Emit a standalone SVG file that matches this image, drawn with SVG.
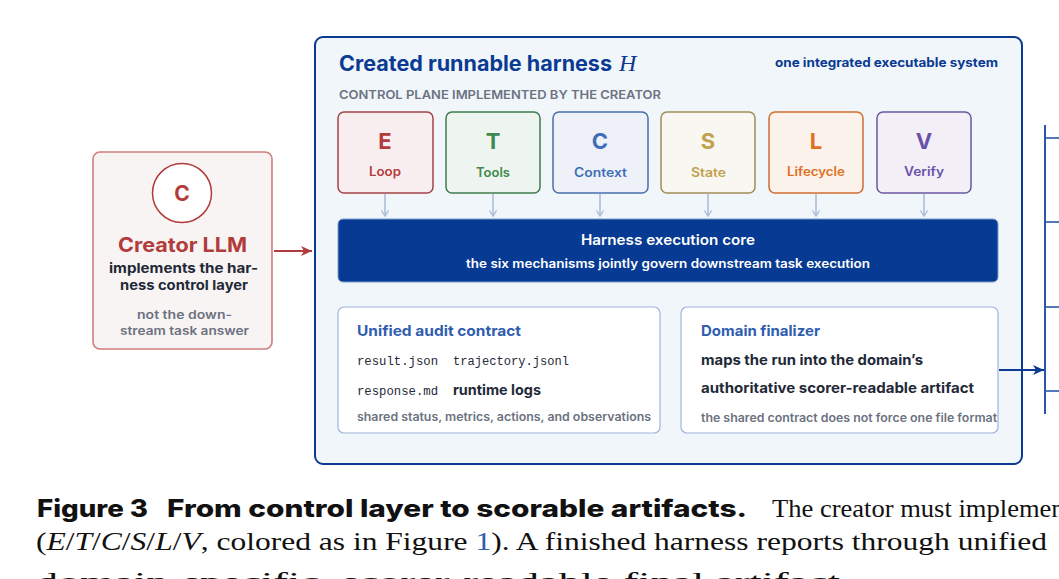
<svg xmlns="http://www.w3.org/2000/svg" width="1059" height="579" viewBox="0 0 1059 579">
<defs>
<style>
.sans{font-family:Inter,"Noto Sans","Liberation Sans",sans-serif}
.mono{font-family:"Liberation Mono","DejaVu Sans Mono",monospace;font-size:12px;fill:#1f2937}
.letter{font-family:Inter,"Liberation Sans",sans-serif;font-size:22px;font-weight:700;text-anchor:middle}
.lab{font-family:Inter,"Liberation Sans",sans-serif;font-size:12.5px;font-weight:600}
.mech{stroke-width:1.5}
.down{stroke:#a9bad6;stroke-width:1.5;fill:none}
.card{fill:#ffffff;stroke:#9fb4dc;stroke-width:1.2}
.ctitle{font-family:Inter,"Liberation Sans",sans-serif;font-size:14.5px;font-weight:700;fill:#2f5db0}
.dark{font-family:Inter,"Liberation Sans",sans-serif;font-weight:700;fill:#1f2937}
.gray{font-family:Inter,"Liberation Sans",sans-serif;font-weight:600;fill:#6b7280}
.serif{font-family:"Liberation Serif","DejaVu Serif",serif;font-size:26px;fill:#111}
</style>
<marker id="ahDown" markerWidth="8" markerHeight="8" refX="6" refY="4" orient="auto" markerUnits="userSpaceOnUse" viewBox="0 0 8 8">
<path d="M0.5,0.5 L6,4 L0.5,7.5" fill="none" stroke="#a9bad6" stroke-width="1.3"/>
</marker>
<marker id="ahRed" markerWidth="12" markerHeight="12" refX="11" refY="6" orient="auto" markerUnits="userSpaceOnUse" viewBox="0 0 12 12">
<path d="M0,1 L11,6 L0,11 L3,6 Z" fill="#b23b3b"/>
</marker>
<marker id="ahBlue" markerWidth="12" markerHeight="12" refX="11" refY="6" orient="auto" markerUnits="userSpaceOnUse" viewBox="0 0 12 12">
<path d="M0,1 L11,6 L0,11 L3,6 Z" fill="#0a3a92"/>
</marker>
</defs>

<rect width="1059" height="579" fill="#ffffff"/>

<!-- Creator LLM -->
<g id="creator">
<rect x="93" y="152" width="179" height="197" rx="7" fill="#f9f4f4" stroke="#cf7c7c" stroke-width="1.6"/>
<circle cx="182" cy="193" r="29.5" fill="#ffffff" stroke="#b23b3b" stroke-width="1.5"/>
<text x="182" y="201" class="sans" font-size="21" font-weight="700" fill="#b23b3b" text-anchor="middle">C</text>
<text x="118" y="252" class="sans" font-size="20" font-weight="700" fill="#b23b3b" textLength="129" lengthAdjust="spacingAndGlyphs">Creator LLM</text>
<text x="109" y="273" class="dark" font-size="13.5" textLength="149" lengthAdjust="spacingAndGlyphs">implements the har-</text>
<text x="120" y="290" class="dark" font-size="13.5" textLength="128" lengthAdjust="spacingAndGlyphs">ness control layer</text>
<text x="137" y="319" class="gray" font-size="12" textLength="95" lengthAdjust="spacingAndGlyphs">not the down-</text>
<text x="120" y="335" class="gray" font-size="12" textLength="129" lengthAdjust="spacingAndGlyphs">stream task answer</text>
</g>

<!-- Harness container -->
<g id="harness">
<rect x="315" y="37" width="707" height="427" rx="8" fill="#f1f6fb" stroke="#0a3a92" stroke-width="2"/>
<text x="339" y="71" class="sans" font-size="21" font-weight="700" fill="#0a3a92" textLength="273" lengthAdjust="spacingAndGlyphs">Created runnable harness</text>
<text x="619" y="71" font-family="'Liberation Serif',serif" font-style="italic" font-size="24" fill="#0a3a92">H</text>
<text x="775" y="67" class="sans" font-size="12.5" font-weight="700" fill="#0a3a92" textLength="223" lengthAdjust="spacingAndGlyphs">one integrated executable system</text>
<text x="339" y="99" class="gray" font-size="12" font-weight="700" textLength="322" lengthAdjust="spacingAndGlyphs">CONTROL PLANE IMPLEMENTED BY THE CREATOR</text>
</g>

<g id="mech-E">
<rect x="338" y="112" width="95" height="81" rx="6" fill="#f8eeef" stroke="#a54448" class="mech"/>
<text x="385" y="149" class="letter" fill="#b23b3b">E</text>
<text x="369" y="176" class="lab" fill="#b23b3b" textLength="32" lengthAdjust="spacingAndGlyphs">Loop</text>
</g>
<g id="mech-T">
<rect x="446" y="112" width="94" height="81" rx="6" fill="#eef4f0" stroke="#3f7c4c" class="mech"/>
<text x="493" y="149" class="letter" fill="#3c8a4c">T</text>
<text x="476" y="177" class="lab" fill="#3c8a4c" textLength="34" lengthAdjust="spacingAndGlyphs">Tools</text>
</g>
<g id="mech-C">
<rect x="553" y="112" width="95" height="81" rx="6" fill="#eef2f8" stroke="#4a6ea8" class="mech"/>
<text x="600" y="149" class="letter" fill="#3f6db8">C</text>
<text x="574" y="177" class="lab" fill="#3f6db8" textLength="53" lengthAdjust="spacingAndGlyphs">Context</text>
</g>
<g id="mech-S">
<rect x="661" y="112" width="94" height="81" rx="6" fill="#f8f7f1" stroke="#a08f56" class="mech"/>
<text x="708" y="149" class="letter" fill="#c1a24e">S</text>
<text x="691" y="177" class="lab" fill="#c1a24e" textLength="35" lengthAdjust="spacingAndGlyphs">State</text>
</g>
<g id="mech-L">
<rect x="769" y="112" width="94" height="81" rx="6" fill="#fbf2ec" stroke="#cf6f2e" class="mech"/>
<text x="816" y="149" class="letter" fill="#e0701e">L</text>
<text x="787" y="176" class="lab" fill="#e0701e" textLength="58" lengthAdjust="spacingAndGlyphs">Lifecycle</text>
</g>
<g id="mech-V">
<rect x="877" y="112" width="94" height="81" rx="6" fill="#f2f0f6" stroke="#6a58a2" class="mech"/>
<text x="924" y="149" class="letter" fill="#6a52ac">V</text>
<text x="904" y="176" class="lab" fill="#6a52ac" textLength="40" lengthAdjust="spacingAndGlyphs">Verify</text>
</g>

<g id="core">
<rect x="338" y="219" width="660" height="63" rx="5" fill="#073a92" stroke="#7f9ccc" stroke-width="1"/>
<text x="581" y="245" class="sans" font-size="14.5" font-weight="600" fill="#ffffff" textLength="174" lengthAdjust="spacingAndGlyphs">Harness execution core</text>
<text x="466" y="268" class="sans" font-size="12.5" font-weight="600" fill="#ffffff" textLength="404" lengthAdjust="spacingAndGlyphs">the six mechanisms jointly govern downstream task execution</text>
</g>

<g id="audit">
<rect x="338" y="307" width="322" height="126" rx="6" class="card"/>
<text x="357" y="336" class="ctitle" textLength="164" lengthAdjust="spacingAndGlyphs">Unified audit contract</text>
<text x="357" y="365" class="mono" textLength="81" lengthAdjust="spacingAndGlyphs">result.json</text>
<text x="453" y="365" class="mono" textLength="116" lengthAdjust="spacingAndGlyphs">trajectory.jsonl</text>
<text x="357" y="395" class="mono" textLength="81" lengthAdjust="spacingAndGlyphs">response.md</text>
<text x="453" y="395" class="dark" font-size="14.5" textLength="88" lengthAdjust="spacingAndGlyphs">runtime logs</text>
<text x="357" y="421" class="gray" font-size="11.5" textLength="294" lengthAdjust="spacingAndGlyphs">shared status, metrics, actions, and observations</text>
</g>

<g id="finalizer">
<rect x="681" y="307" width="317" height="126" rx="6" class="card"/>
<text x="701" y="336" class="ctitle" textLength="119" lengthAdjust="spacingAndGlyphs">Domain finalizer</text>
<text x="701" y="365" class="dark" font-size="14" textLength="222" lengthAdjust="spacingAndGlyphs">maps the run into the domain’s</text>
<text x="701" y="393" class="dark" font-size="14" textLength="273" lengthAdjust="spacingAndGlyphs">authoritative scorer-readable artifact</text>
<text x="701" y="422" class="gray" font-size="11.5" textLength="296" lengthAdjust="spacingAndGlyphs">the shared contract does not force one file format</text>
</g>

<g id="artifacts-edge">
<line x1="1045" y1="125" x2="1045" y2="414" stroke="#2a56a8" stroke-width="2"/>
<line x1="1045" y1="138" x2="1059" y2="138" stroke="#2a56a8" stroke-width="1.6"/>
<line x1="1045" y1="222" x2="1059" y2="222" stroke="#2a56a8" stroke-width="1.6"/>
<line x1="1045" y1="307" x2="1059" y2="307" stroke="#2a56a8" stroke-width="1.6"/>
<line x1="1045" y1="391" x2="1059" y2="391" stroke="#2a56a8" stroke-width="1.6"/>
</g>

<g id="connectors">
<line x1="274" y1="251" x2="312" y2="251" stroke="#b23b3b" stroke-width="2" marker-end="url(#ahRed)"/>
<line x1="385" y1="194" x2="385" y2="216" class="down" marker-end="url(#ahDown)"/>
<line x1="493" y1="194" x2="493" y2="216" class="down" marker-end="url(#ahDown)"/>
<line x1="600" y1="194" x2="600" y2="216" class="down" marker-end="url(#ahDown)"/>
<line x1="708" y1="194" x2="708" y2="216" class="down" marker-end="url(#ahDown)"/>
<line x1="816" y1="194" x2="816" y2="216" class="down" marker-end="url(#ahDown)"/>
<line x1="924" y1="194" x2="924" y2="216" class="down" marker-end="url(#ahDown)"/>
<line x1="999" y1="370" x2="1044" y2="370" stroke="#0a3a92" stroke-width="2" marker-end="url(#ahBlue)"/>
</g>

<g id="caption">
<text x="37" y="517" class="sans" font-size="24" font-weight="800" fill="#111" textLength="111" lengthAdjust="spacingAndGlyphs">Figure 3</text>
<text x="167" y="517" class="sans" font-size="24" font-weight="800" fill="#111" textLength="580" lengthAdjust="spacingAndGlyphs">From control layer to scorable artifacts.</text>
<text x="772" y="517" class="serif" textLength="300" lengthAdjust="spacingAndGlyphs">The creator must implement</text>
<text x="36" y="550" class="serif" textLength="1011" lengthAdjust="spacingAndGlyphs">(<tspan font-style="italic">E</tspan>/<tspan font-style="italic">T</tspan>/<tspan font-style="italic">C</tspan>/<tspan font-style="italic">S</tspan>/<tspan font-style="italic">L</tspan>/<tspan font-style="italic">V</tspan>, colored as in Figure <tspan fill="#2f5db0">1</tspan>). A finished harness reports through unified</text>
<text x="36" y="590" class="serif" textLength="815" lengthAdjust="spacingAndGlyphs">domain-specific, scorer-readable final artifact.</text>
</g>
</svg>
